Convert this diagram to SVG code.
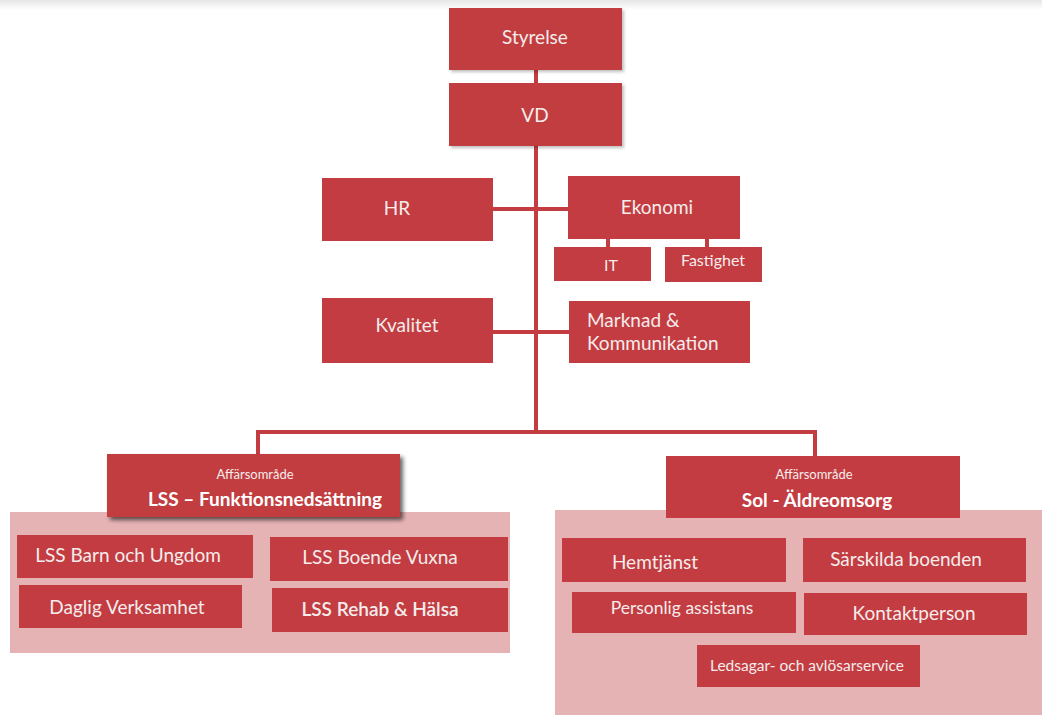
<svg xmlns="http://www.w3.org/2000/svg" width="1042" height="715" viewBox="0 0 1042 715">
<defs>
<linearGradient id="band" x1="0" y1="0" x2="0" y2="1">
<stop offset="0" stop-color="#e6e6e6"/>
<stop offset="1" stop-color="#ffffff"/>
</linearGradient>
<filter id="sh" x="-10%" y="-10%" width="125%" height="130%">
<feDropShadow dx="2" dy="2" stdDeviation="1.5" flood-color="#000" flood-opacity="0.25"/>
</filter>
<filter id="sh2" x="-10%" y="-10%" width="125%" height="140%">
<feDropShadow dx="3" dy="3" stdDeviation="2" flood-color="#000" flood-opacity="0.6"/>
</filter>
</defs>
<style>
.box{fill:#c23c41}
.panel{fill:#e6b3b5}
.t{font-family:Lato,"Open Sans",sans-serif;fill:#f6ecec;text-anchor:middle}
.m{font-size:19px}
.s{font-size:16px}
.xs{font-size:13px}
.b{font-weight:bold;font-size:19px;fill:#fff}
.ln{stroke:#c23c41;stroke-width:4;fill:none}
</style>
<rect x="0" y="0" width="1042" height="715" fill="#fff"/>
<rect x="0" y="0" width="1042" height="10" fill="url(#band)"/>

<g id="connectors">
<line class="ln" x1="536" y1="70" x2="536" y2="84"/>
<line class="ln" x1="536" y1="146" x2="536" y2="432"/>
<line class="ln" x1="493" y1="209" x2="569" y2="209"/>
<line class="ln" x1="493" y1="332" x2="569" y2="332"/>
<line class="ln" x1="608" y1="239" x2="608" y2="248"/>
<line class="ln" x1="707" y1="239" x2="707" y2="248"/>
<polyline class="ln" points="258,455 258,432 815,432 815,457"/>
</g>

<g id="panel-lss"><rect class="panel" x="10" y="512" width="500" height="141"/></g>
<g id="panel-sol"><rect class="panel" x="555" y="510" width="487" height="205"/></g>

<g id="styrelse"><rect class="box" x="449" y="8" width="173" height="62" filter="url(#sh)"/><text class="t m" x="535" y="44">Styrelse</text></g>
<g id="vd"><rect class="box" x="449" y="83" width="173" height="63" filter="url(#sh)"/><text class="t m" x="535" y="122">VD</text></g>
<g id="hr"><rect class="box" x="322" y="178" width="171" height="63"/><text class="t m" x="397" y="215">HR</text></g>
<g id="ekonomi"><rect class="box" x="568" y="176" width="172" height="63"/><text class="t m" x="657" y="214">Ekonomi</text></g>
<g id="it"><rect class="box" x="554" y="247" width="97" height="34"/><text class="t s" x="611" y="271">IT</text></g>
<g id="fastighet"><rect class="box" x="665" y="247" width="97" height="35"/><text class="t s" x="713" y="266">Fastighet</text></g>
<g id="kvalitet"><rect class="box" x="322" y="298" width="171" height="65"/><text class="t m" x="407" y="332">Kvalitet</text></g>
<g id="marknad"><rect class="box" x="569" y="301" width="181" height="62"/><text class="t m" x="587" y="327" style="text-anchor:start">Marknad &amp;</text><text class="t m" x="587" y="350" style="text-anchor:start">Kommunikation</text></g>

<g id="lss"><rect class="box" x="107" y="454" width="293" height="63" filter="url(#sh2)"/><text class="t xs" x="255" y="479">Affärsområde</text><text class="t b" x="265" y="506">LSS – Funktionsnedsättning</text></g>
<g id="sol"><rect class="box" x="666" y="456" width="294" height="62"/><text class="t xs" x="814" y="479">Affärsområde</text><text class="t b" x="817" y="507">Sol - Äldreomsorg</text></g>

<g id="lss-barn"><rect class="box" x="17" y="535" width="236" height="43"/><text class="t m" x="128" y="562">LSS Barn och Ungdom</text></g>
<g id="daglig"><rect class="box" x="19" y="585" width="223" height="43"/><text class="t m" x="127" y="614">Daglig Verksamhet</text></g>
<g id="lss-boende"><rect class="box" x="270" y="537" width="238" height="44"/><text class="t m" x="380" y="564">LSS Boende Vuxna</text></g>
<g id="lss-rehab"><rect class="box" x="272" y="588" width="236" height="44"/><text class="t m" x="380" y="616" style="font-weight:600">LSS Rehab &amp; Hälsa</text></g>

<g id="hemtjanst"><rect class="box" x="562" y="538" width="224" height="44"/><text class="t m" x="655" y="569">Hemtjänst</text></g>
<g id="sarskilda"><rect class="box" x="803" y="538" width="223" height="44"/><text class="t m" x="906" y="566">Särskilda boenden</text></g>
<g id="personlig"><rect class="box" x="572" y="592" width="224" height="41"/><text class="t" x="682" y="614" style="font-size:17.5px">Personlig assistans</text></g>
<g id="kontakt"><rect class="box" x="804" y="593" width="223" height="42"/><text class="t m" x="914" y="620">Kontaktperson</text></g>
<g id="ledsagar"><rect class="box" x="697" y="645" width="223" height="42"/><text class="t" x="807" y="671" style="font-size:15.5px">Ledsagar- och avlösarservice</text></g>
</svg>
